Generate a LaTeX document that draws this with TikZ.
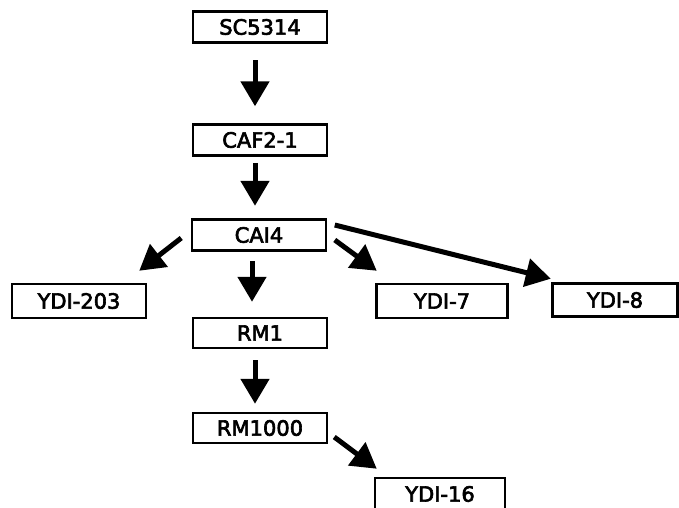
\documentclass[tikz,border=0pt]{standalone}
\usepackage{fontspec}
\setmainfont{DejaVu Sans}
\newfontfamily\boxfont[FakeBold=3]{DejaVu Sans}
\usetikzlibrary{arrows.meta}
\begin{document}
\begin{tikzpicture}[x=1pt, y=-1pt, nodeStyle/.style={rectangle, draw, line width=2.5pt, inner sep=0pt, minimum width=134pt, minimum height=31pt, font=\boxfont\fontsize{21}{22}\selectfont}, arrowStyle/.style={line width=5pt, -{Triangle[length=25pt, width=28pt]}}]
    \clip (0, 0) rectangle (679, 507);

    \node[nodeStyle] (sc5314) at (260,  27) {SC5314};
    \node[nodeStyle] (caf21)  at (260, 140) {CAF2-1};
    \node[nodeStyle] (cai4)   at (259, 235) {CAI4};

    \node[nodeStyle, minimum height=34pt] (ydi203) at ( 79, 301) {YDI-203};
    \node[nodeStyle, minimum width=131pt, minimum height=34pt] (ydi7) at (442, 301) {YDI-7};
    \node[nodeStyle, minimum width=125pt, minimum height=33pt] (ydi8) at (615, 300) {YDI-8};

    \node[nodeStyle, minimum height=30pt] (rm1)    at (260, 333) {RM1};
    \node[nodeStyle, minimum height=30pt] (rm1000) at (260, 428) {RM1000};
    \node[nodeStyle, minimum width=130pt, minimum height=32pt] (ydi16) at (440, 494) {YDI-16};

    \draw[arrowStyle, shorten <=16.5pt, shorten >=17pt] ([xshift=-5pt]sc5314.south) -- ([xshift=-5pt]caf21.north);
    \draw[arrowStyle, shorten <=6pt, shorten >=12.5pt] ([xshift=-5pt]caf21.south) -- ([xshift=-4pt]cai4.north);
    \draw[arrowStyle, shorten <=9.5pt, shorten >=15pt] ([xshift=-7pt]cai4.south) -- ([xshift=-8pt]rm1.north);
    \draw[arrowStyle, shorten <=11pt, shorten >=8pt] ([xshift=-5pt]rm1.south) -- ([xshift=-5pt]rm1000.north);

    \draw[arrowStyle] ([shift={(-9.5, 3)}]cai4.west) -- ([shift={(-8, -12)}]ydi203.north east);
    \draw[arrowStyle] ([shift={(7.5, 5)}]cai4.east) -- ([shift={(1.5, -12)}]ydi7.north west);
    \draw[arrowStyle] ([shift={(7.5, -10)}]cai4.east) -- ([shift={(-0.5, -3.5)}]ydi8.north west);
    \draw[arrowStyle] ([shift={(6, 9)}]rm1000.east) -- ([shift={(3, -8)}]ydi16.north west);
\end{tikzpicture}
\end{document}
